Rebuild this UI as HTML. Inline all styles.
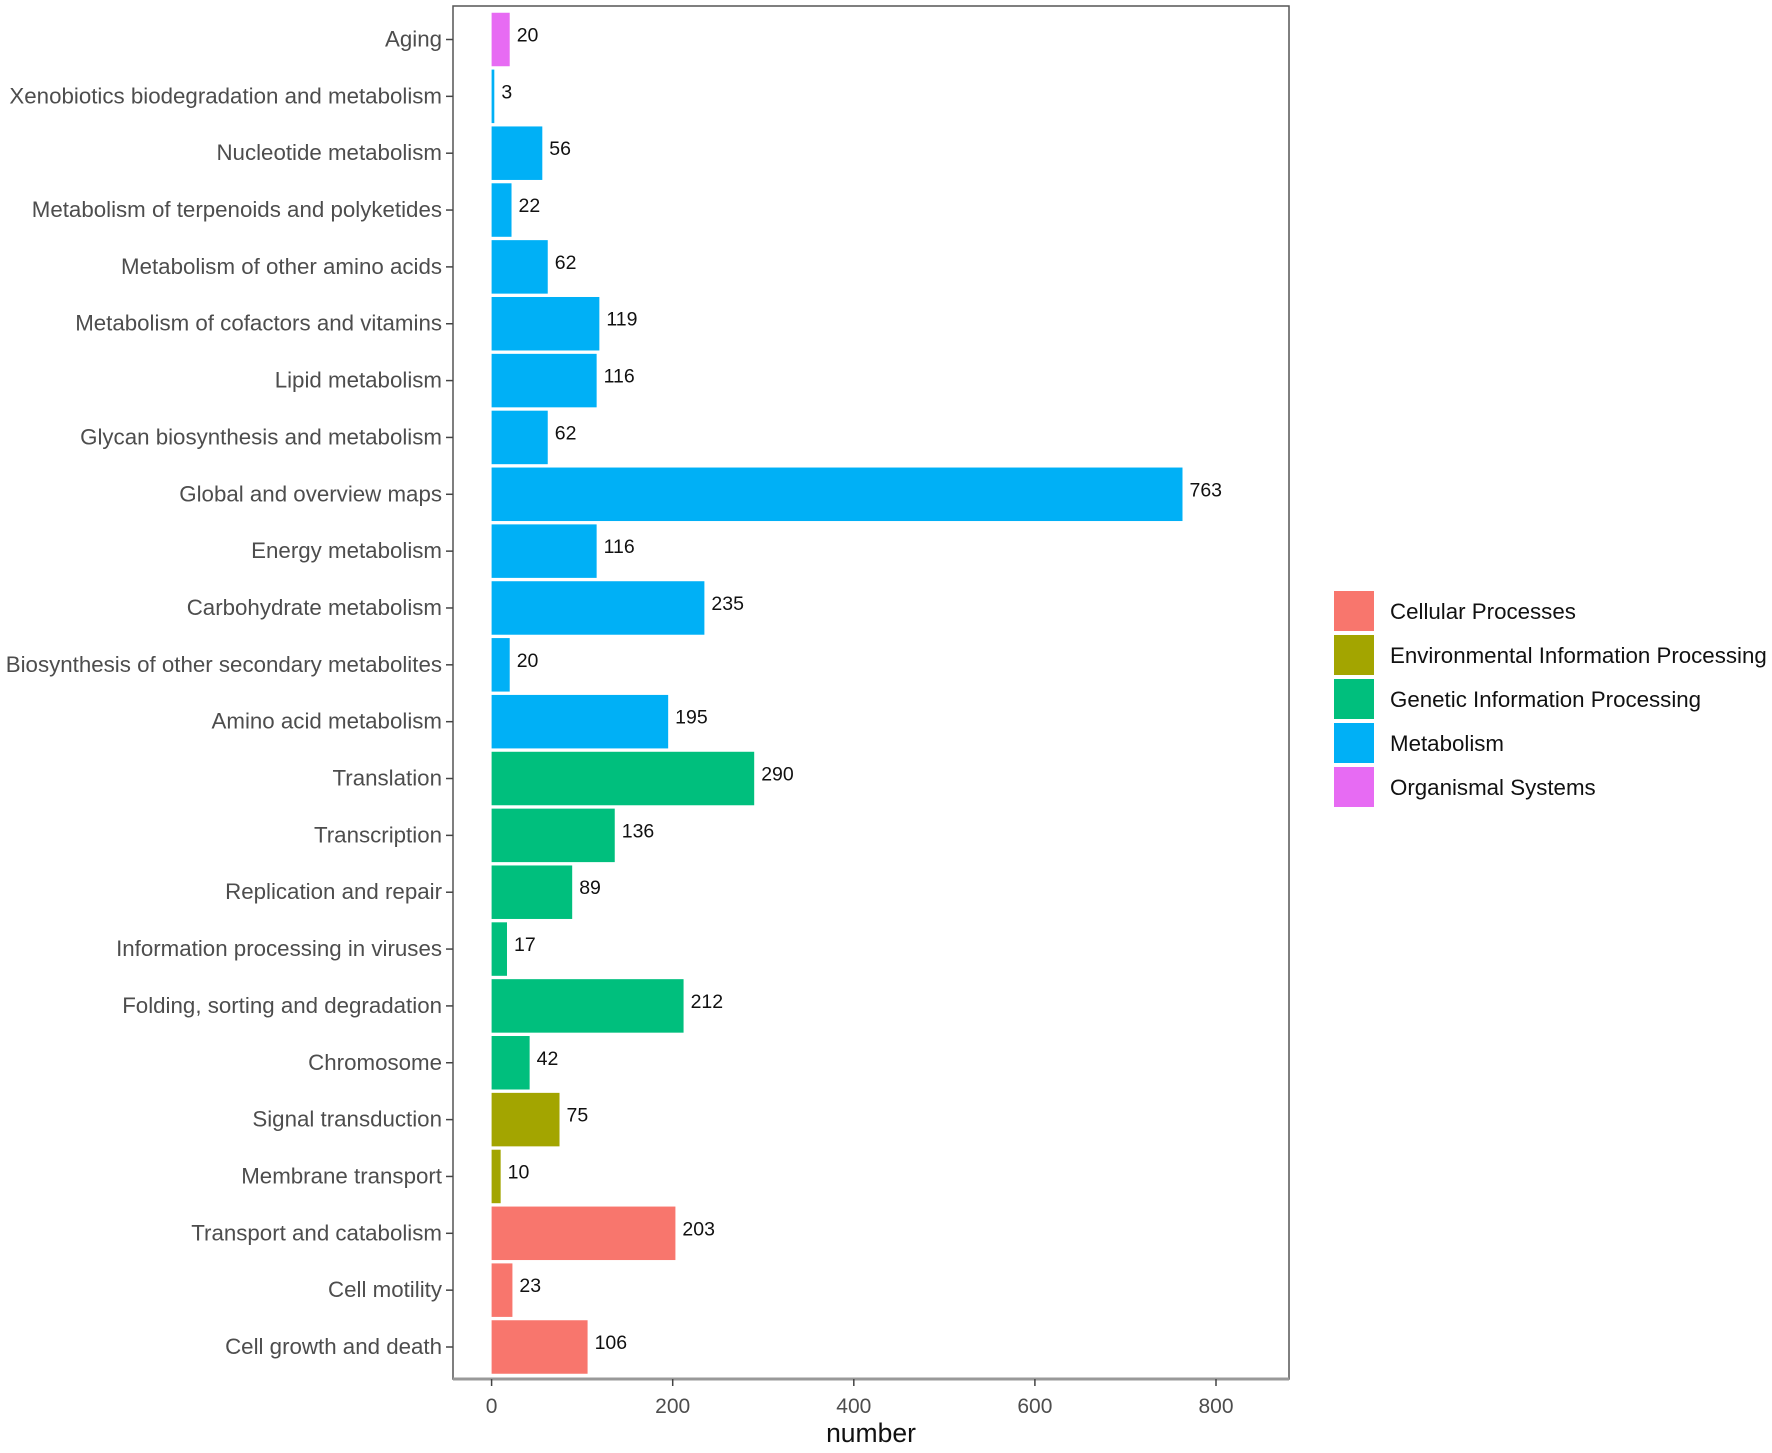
<!DOCTYPE html>
<html><head><meta charset="utf-8"><style>
body{margin:0;background:#fff}
svg text{font-family:"Liberation Sans",sans-serif}
</style></head><body>
<svg id="chart" width="1772" height="1448" xmlns="http://www.w3.org/2000/svg">
<g id="plot"></g>
</svg>
<script>
const categories=["Aging","Xenobiotics biodegradation and metabolism","Nucleotide metabolism","Metabolism of terpenoids and polyketides","Metabolism of other amino acids","Metabolism of cofactors and vitamins","Lipid metabolism","Glycan biosynthesis and metabolism","Global and overview maps","Energy metabolism","Carbohydrate metabolism","Biosynthesis of other secondary metabolites","Amino acid metabolism","Translation","Transcription","Replication and repair","Information processing in viruses","Folding, sorting and degradation","Chromosome","Signal transduction","Membrane transport","Transport and catabolism","Cell motility","Cell growth and death"];
const values=[20,3,56,22,62,119,116,62,763,116,235,20,195,290,136,89,17,212,42,75,10,203,23,106];
const groups=["Organismal Systems","Metabolism","Metabolism","Metabolism","Metabolism","Metabolism","Metabolism","Metabolism","Metabolism","Metabolism","Metabolism","Metabolism","Metabolism","Genetic Information Processing","Genetic Information Processing","Genetic Information Processing","Genetic Information Processing","Genetic Information Processing","Genetic Information Processing","Environmental Information Processing","Environmental Information Processing","Cellular Processes","Cellular Processes","Cellular Processes"];
const legendLabels=["Cellular Processes","Environmental Information Processing","Genetic Information Processing","Metabolism","Organismal Systems"];
const legendColors=["#F8766D","#A3A500","#00BF7D","#00B0F6","#E76BF3"];
const xTicks=[0,200,400,600,800];

const NS="http://www.w3.org/2000/svg";
const g=document.getElementById('plot');
const L=453,R=1289,T=6,B=1379;
const x=v=>491.6+v*(1216-491.6)/800;
const y=i=>39.5+i*(1347-39.5)/(categories.length-1);
const bh=53.5;
function mk(t,a){const e=document.createElementNS(NS,t);for(const k in a)e.setAttribute(k,a[k]);g.appendChild(e);return e;}
const panel=mk('rect',{x:L,y:T,width:R-L,height:B-T,fill:'#fff',stroke:'#555','stroke-width':1.5});


categories.forEach((c,i)=>{
  const col=legendColors[legendLabels.indexOf(groups[i])];
  const r=mk('rect',{x:x(0),y:y(i)-bh/2,width:x(values[i])-x(0),height:bh,fill:col});
  
  
  const v=mk('text',{x:x(values[i])+7,y:y(i)+2,'font-size':19.5,fill:'#111'});v.textContent=values[i];
  
  
  const tk=mk('line',{x1:L-7,x2:L,y1:y(i),y2:y(i),stroke:'#444','stroke-width':1.5});
  
  
  const t=mk('text',{x:L-11,y:y(i)+7,'font-size':22.3,fill:'#4d4d4d','text-anchor':'end'});t.textContent=c;
  
  
});
const ax=mk('line',{x1:L,x2:R,y1:B,y2:B,stroke:'#999','stroke-width':3});


xTicks.forEach(v=>{
  const tk=mk('line',{x1:x(v),x2:x(v),y1:B,y2:B+7,stroke:'#444','stroke-width':1.5});
  
  
  const t=mk('text',{x:x(v),y:B+34,'font-size':21,fill:'#4d4d4d','text-anchor':'middle'});t.textContent=v;
  
  
});
const xt=mk('text',{x:871,y:1442,'font-size':26.5,fill:'#111','text-anchor':'middle'});xt.textContent='number';


legendLabels.forEach((l,i)=>{
  const yy=591+i*44;
  const r=mk('rect',{x:1334,y:yy,width:40,height:40,fill:legendColors[i]});
  
  
  const t=mk('text',{x:1390,y:yy+28,'font-size':22.3,fill:'#111'});t.textContent=l;
  
  
});
</script>
</body></html>
